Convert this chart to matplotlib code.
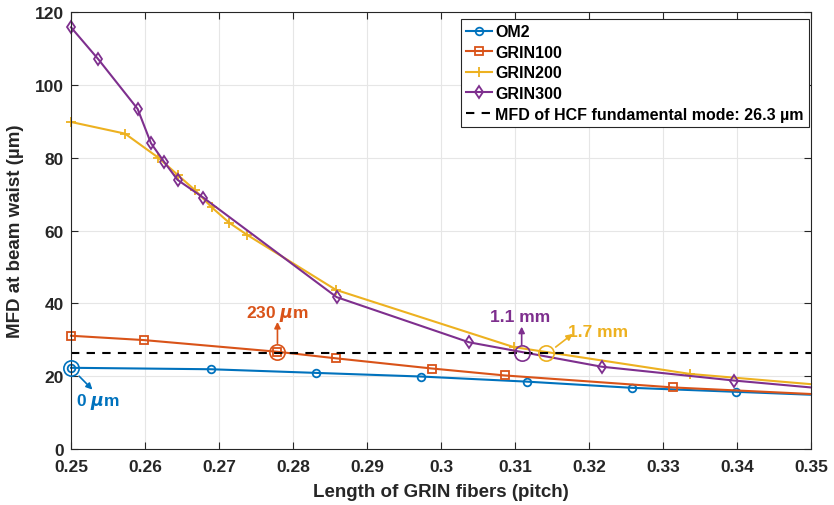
import matplotlib
matplotlib.use("Agg")
import matplotlib.pyplot as plt

plt.rcParams['font.family'] = ['Liberation Sans', 'DejaVu Sans']
plt.rcParams['font.weight'] = 'bold'
plt.rcParams['axes.labelweight'] = 'bold'
plt.rcParams['mathtext.fontset'] = 'custom'
plt.rcParams['mathtext.it'] = 'DejaVu Sans:italic'
plt.rcParams['mathtext.rm'] = 'Liberation Sans:bold'

# data
om2_x = [0.25, 0.2689, 0.2831, 0.2973, 0.3116, 0.3258, 0.3399, 0.35]
om2_y = [22.3, 21.9, 20.9, 19.9, 18.5, 16.8, 15.7, 14.9]

grin100_x = [0.25, 0.2599, 0.2779, 0.2858, 0.2988, 0.3086, 0.3314, 0.35]
grin100_y = [31.1, 29.9, 26.7, 24.9, 22.1, 20.2, 16.9, 15.1]

grin200_x = [0.25, 0.2573, 0.2618, 0.2644, 0.2668, 0.2690, 0.2714, 0.2738,
             0.2858, 0.3098, 0.3337, 0.35]
grin200_y = [89.8, 86.6, 80.0, 75.3, 71.0, 66.4, 62.1, 58.8,
             43.7, 28.0, 20.6, 17.8]

grin300_x = [0.25, 0.2537, 0.2590, 0.2608, 0.2626, 0.2644, 0.2679,
             0.2859, 0.3038, 0.3217, 0.3396, 0.35]
grin300_y = [115.8, 107.0, 93.4, 84.0, 78.8, 73.9, 69.0,
             41.7, 29.3, 22.6, 18.8, 16.9]

hcf_mfd = 26.3

c_blue = '#0072BD'
c_orange = '#D95319'
c_yellow = '#EDB120'
c_purple = '#7E2F8E'
c_axis = '#262626'

fig = plt.figure(figsize=(8.34, 5.06), dpi=100)
ax = fig.add_axes([71/834, 56/506, 740/834, 437/506])

lw = 1.5
ms = 5.5
ax.plot(om2_x, om2_y, color=c_blue, lw=lw, marker='o', ms=ms, mfc='none',
        mew=1.3, markevery=list(range(len(om2_x) - 1)), label='OM2', clip_on=False)
ax.plot(grin100_x, grin100_y, color=c_orange, lw=lw, marker='s', ms=ms, mfc='none',
        mew=1.3, markevery=list(range(len(grin100_x) - 1)), label='GRIN100', clip_on=False)
ax.plot(grin200_x, grin200_y, color=c_yellow, lw=lw, marker='+', ms=7,
        mew=1.3, markevery=list(range(len(grin200_x) - 1)), label='GRIN200', clip_on=False)
ax.plot(grin300_x, grin300_y, color=c_purple, lw=lw, marker='d', ms=6.5, mfc='none',
        mew=1.3, markevery=list(range(len(grin300_x) - 1)), label='GRIN300', clip_on=False)
ax.axhline(hcf_mfd, color='k', lw=1.5, ls=(0, (4, 3.5)),
           label='MFD of HCF fundamental mode: 26.3 \u00b5m')

# crossing markers and annotations
circ = dict(marker='o', ms=11, mfc='none', mew=1.2, clip_on=False, zorder=5)
ax.plot([0.25], [22.3], color=c_blue, **circ)
ax.plot([0.2779], [26.7], color=c_orange, **circ)
ax.plot([0.3109], [26.4], color=c_purple, **circ)
ax.plot([0.3142], [26.4], color=c_yellow, **circ)

arr = dict(arrowstyle='-|>', lw=1.2, mutation_scale=9, shrinkA=0, shrinkB=0)
ax.annotate('', xy=(0.2529, 16.3), xytext=(0.2511, 20.0),
            arrowprops=dict(color=c_blue, **arr))
ax.text(0.2507, 13.3, r'0 $\mu$m', color=c_blue, fontsize=12.5,
        ha='left', va='center')

ax.annotate('', xy=(0.2779, 34.9), xytext=(0.2779, 29.0),
            arrowprops=dict(color=c_orange, **arr))
ax.text(0.2779, 37.3, r'230 $\mu$m', color=c_orange, fontsize=12.5,
        ha='center', va='center')

ax.annotate('', xy=(0.3109, 33.6), xytext=(0.3109, 28.6),
            arrowprops=dict(color=c_purple, **arr))
ax.text(0.3107, 36.3, '1.1 mm', color=c_purple, fontsize=12.5,
        ha='center', va='center')

ax.annotate('', xy=(0.3178, 31.6), xytext=(0.3155, 28.0),
            arrowprops=dict(color=c_yellow, **arr))
ax.text(0.3172, 32.2, '1.7 mm', color=c_yellow, fontsize=12.5,
        ha='left', va='center')

ax.set_xlim(0.25, 0.35)
ax.set_ylim(0, 120)
ax.set_xticks([0.25, 0.26, 0.27, 0.28, 0.29, 0.3, 0.31, 0.32, 0.33, 0.34, 0.35])
ax.set_xticklabels(['0.25', '0.26', '0.27', '0.28', '0.29', '0.3', '0.31',
                    '0.32', '0.33', '0.34', '0.35'])
ax.set_yticks([0, 20, 40, 60, 80, 100, 120])
ax.grid(True, color='#e6e6e6', lw=0.8)
ax.set_axisbelow(True)
ax.tick_params(direction='in', length=5, width=0.8, colors=c_axis,
               labelsize=12.5, top=True, right=True)
ax.tick_params(axis='x', pad=7)
ax.tick_params(axis='y', pad=5)
for s in ax.spines.values():
    s.set_color(c_axis)
    s.set_linewidth(0.8)

ax.set_xlabel('Length of GRIN fibers (pitch)', fontsize=13.5, color=c_axis, labelpad=7)
ax.set_ylabel('MFD at beam waist (\u00b5m)', fontsize=13.5, color=c_axis, labelpad=8)

leg = ax.legend(loc='upper right', bbox_to_anchor=(0.9975, 0.985), fontsize=11.5,
                handlelength=1.6, handletextpad=0.2, labelspacing=0.35,
                borderpad=0.35, borderaxespad=0, fancybox=False, framealpha=1)
leg.get_frame().set_edgecolor(c_axis)
leg.get_frame().set_linewidth(0.8)

fig.savefig('out.png', dpi=100)
